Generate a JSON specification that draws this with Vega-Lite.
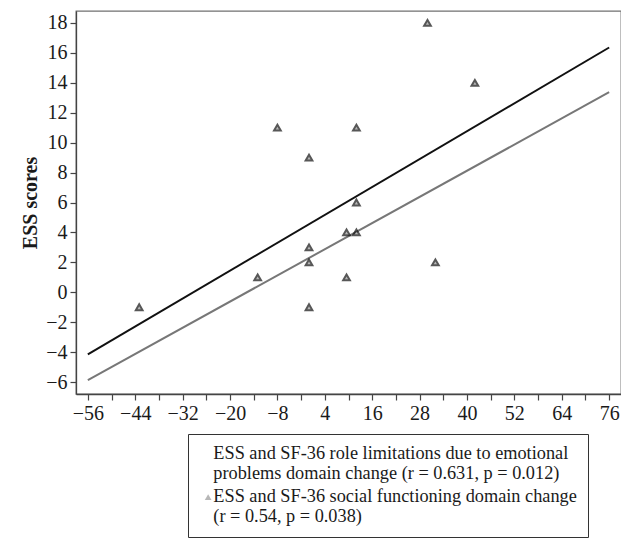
{
  "$schema": "https://vega.github.io/schema/vega-lite/v6.json",
  "width": 545,
  "height": 383,
  "padding": {"left": 20, "top": 11, "right": 0, "bottom": 0},
  "background": "white",
  "config": {
    "font": "Liberation Serif",
    "view": {"stroke": "#707070", "strokeWidth": 1.3},
    "axis": {
      "grid": false,
      "labelFont": "Liberation Serif",
      "labelFontSize": 20,
      "labelColor": "#1a1a1a",
      "domainColor": "#444",
      "domainWidth": 1.3,
      "tickColor": "#444",
      "tickWidth": 1.2,
      "tickSize": 6,
      "labelPadding": 3,
      "labelOverlap": false,
      "labelFlush": false
    }
  },
  "datasets": {
    "lineA": [
      {"x": -56, "y": -4.15},
      {"x": 76, "y": 16.36}
    ],
    "lineB": [
      {"x": -56, "y": -5.87},
      {"x": 76, "y": 13.37}
    ],
    "points": [
      {"series": "B", "x": -43, "y": -1},
      {"series": "B", "x": -13, "y": 1},
      {"series": "B", "x": 0, "y": 3},
      {"series": "B", "x": 0, "y": 2},
      {"series": "B", "x": 0, "y": -1},
      {"series": "B", "x": -8, "y": 11},
      {"series": "B", "x": 0, "y": 9},
      {"series": "B", "x": 30, "y": 18},
      {"series": "B", "x": 42, "y": 14},
      {"series": "B", "x": 12, "y": 11},
      {"series": "B", "x": 12, "y": 6},
      {"series": "B", "x": 9.5, "y": 4},
      {"series": "B", "x": 12, "y": 4},
      {"series": "B", "x": 9.5, "y": 1},
      {"series": "B", "x": 32, "y": 2}
    ]
  },
  "encoding": {
    "x": {
      "field": "x",
      "type": "quantitative",
      "scale": {"domain": [-59, 79], "nice": false, "zero": false},
      "axis": {
        "title": null,
        "values": [-56, -50, -44, -38, -32, -26, -20, -14, -8, -2, 4, 10, 16, 22, 28, 34, 40, 46, 52, 58, 64, 70, 76],
        "labelExpr": "(datum.value + 56) % 12 == 0 ? datum.label : ''",
        "labelFlush": false,
        "labelOverlap": false
      }
    },
    "y": {
      "field": "y",
      "type": "quantitative",
      "scale": {"domain": [-6.8, 18.8], "nice": false, "zero": false},
      "axis": {
        "title": "ESS scores",
        "titleFont": "Liberation Serif",
        "titleFontSize": 20,
        "titleFontWeight": "bold",
        "titleColor": "#1a1a1a",
        "titlePadding": 5,
        "values": [-6, -4, -2, 0, 2, 4, 6, 8, 10, 12, 14, 16, 18],
        "labelFlush": false,
        "labelOverlap": false
      }
    }
  },
  "layer": [
    {
      "data": {"name": "lineA"},
      "mark": {"type": "line", "strokeWidth": 2, "color": "#111111"},
      "encoding": {}
    },
    {
      "data": {"name": "lineB"},
      "mark": {"type": "line", "strokeWidth": 2, "color": "#777777"},
      "encoding": {}
    },
    {
      "data": {"name": "points"},
      "mark": {"type": "point", "filled": true, "fill": "#999999", "stroke": "#111", "strokeWidth": 2, "size": 45},
      "encoding": {
        "shape": {
          "field": "series",
          "type": "nominal",
          "scale": {"domain": ["A", "B"], "range": ["M0,0", "triangle-up"]},
          "legend": {
            "title": null,
            "orient": "none",
            "legendX": 112,
            "legendY": 423,
            "direction": "vertical",
            "strokeColor": "#333",
            "fillColor": "white",
            "padding": 11,
            "labelExpr": "datum.value == 'A' ? ['ESS and SF-36 role limitations due to emotional', 'problems domain change (r = 0.631, p = 0.012)'] : ['ESS and SF-36 social functioning domain change', '(r = 0.54, p = 0.038)']",
            "labelFont": "Liberation Serif",
            "labelFontSize": 18.3,
            "labelColor": "#1a1a1a",
            "labelLimit": 500,
            "labelLineHeight": 22,
            "labelOffset": -4,
            "rowPadding": 4,
            "symbolSize": 45,
            "symbolFillColor": "#999999",
            "symbolStrokeColor": "#111",
            "symbolStrokeWidth": 2
          }
        }
      }
    }
  ]
}
